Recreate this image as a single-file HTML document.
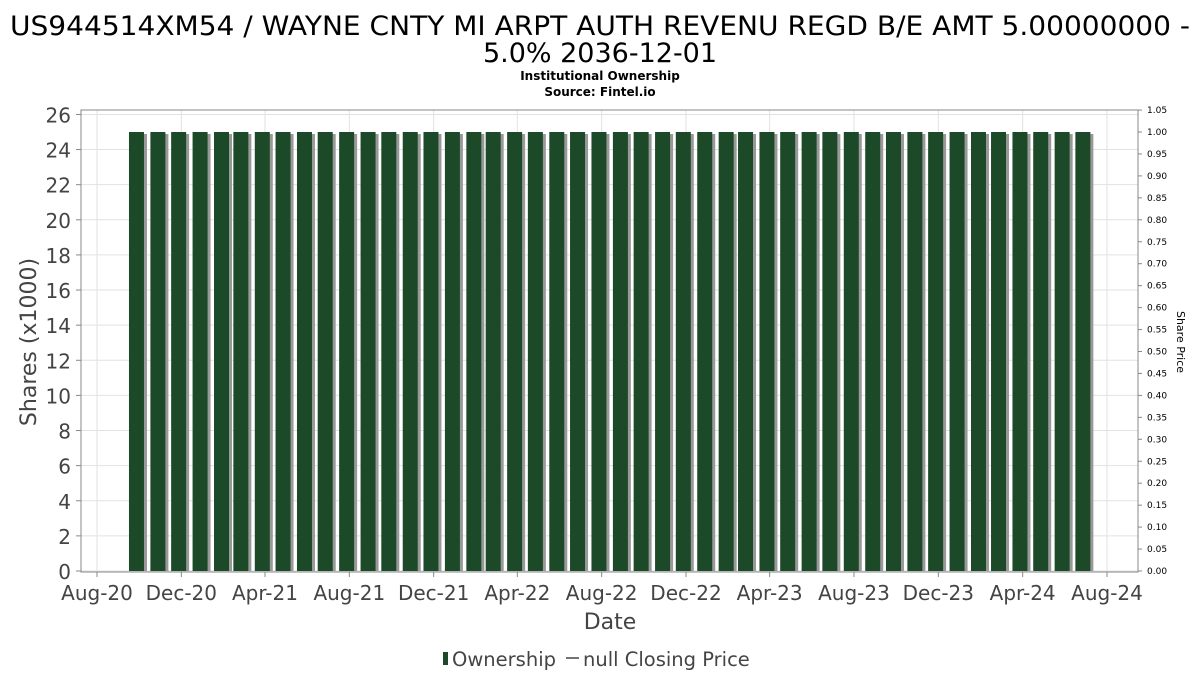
<!DOCTYPE html>
<html><head><meta charset="utf-8"><style>
body{margin:0;background:#fff;font-family:"DejaVu Sans","Liberation Sans",sans-serif}
</style></head><body>
<svg id="c" width="1200" height="675" xmlns="http://www.w3.org/2000/svg">
<text x="600" y="35" text-anchor="middle" font-size="27" fill="#000" textLength="1180" lengthAdjust="spacingAndGlyphs">US944514XM54 / WAYNE CNTY MI ARPT AUTH REVENU REGD B/E AMT 5.00000000 -</text>
<text x="600" y="62" text-anchor="middle" font-size="27" fill="#000">5.0% 2036-12-01</text>
<text x="600" y="80" text-anchor="middle" font-size="12" font-weight="bold">Institutional Ownership</text>
<text x="600" y="96" text-anchor="middle" font-size="12" font-weight="bold">Source: Fintel.io</text>
<g id="grid"></g><g id="bars"></g><g id="axes"></g>
<text transform="translate(36,342) rotate(-90)" text-anchor="middle" font-size="22" fill="#444">Shares (x1000)</text>
<text transform="translate(1177,342) rotate(90)" text-anchor="middle" font-size="11" fill="#000">Share Price</text>
<text x="610" y="629" text-anchor="middle" font-size="22" fill="#444">Date</text>
<g>
<rect x="443" y="652" width="5" height="13" fill="#1c4a28"/>
<text x="452" y="666" font-size="19.5" fill="#444">Ownership</text>
<line x1="566" y1="658" x2="579" y2="658" stroke="#444" stroke-width="1.5"/>
<text x="583" y="666" font-size="19.5" fill="#444">null Closing Price</text>
</g>
</svg>
<script>
const dates=["2020-09-30","2020-10-31","2020-11-30","2020-12-31","2021-01-31","2021-02-28","2021-03-31","2021-04-30","2021-05-31","2021-06-30","2021-07-31","2021-08-31","2021-09-30","2021-10-31","2021-11-30","2021-12-31","2022-01-31","2022-02-28","2022-03-31","2022-04-30","2022-05-31","2022-06-30","2022-07-31","2022-08-31","2022-09-30","2022-10-31","2022-11-30","2022-12-31","2023-01-31","2023-02-28","2023-03-31","2023-04-30","2023-05-31","2023-06-30","2023-07-31","2023-08-31","2023-09-30","2023-10-31","2023-11-30","2023-12-31","2024-01-31","2024-02-29","2024-03-31","2024-04-30","2024-05-31","2024-06-30"];
const shares=[25,25,25,25,25,25,25,25,25,25,25,25,25,25,25,25,25,25,25,25,25,25,25,25,25,25,25,25,25,25,25,25,25,25,25,25,25,25,25,25,25,25,25,25,25,25];
const yTicks=[0,2,4,6,8,10,12,14,16,18,20,22,24,26];
const y2Ticks=["0.00","0.05","0.10","0.15","0.20","0.25","0.30","0.35","0.40","0.45","0.50","0.55","0.60","0.65","0.70","0.75","0.80","0.85","0.90","0.95","1.00","1.05"];
const xTicks=["2020-08-01","2020-12-01","2021-04-01","2021-08-01","2021-12-01","2022-04-01","2022-08-01","2022-12-01","2023-04-01","2023-08-01","2023-12-01","2024-04-01","2024-08-01"];
const xLabels=["Aug-20","Dec-20","Apr-21","Aug-21","Dec-21","Apr-22","Aug-22","Dec-22","Apr-23","Aug-23","Dec-23","Apr-24","Aug-24"];
const NS="http://www.w3.org/2000/svg";
const L=81,R=1138,T=110,B=572;
const t0=Date.parse("2020-08-01"),t1=Date.parse("2024-08-01");
const x=d=>97+(Date.parse(d)-t0)/(t1-t0)*1010;
const y=v=>571-v*17.56;
const y2=v=>y(v*25);
function mk(tag,attrs,parent){const e=document.createElementNS(NS,tag);for(const k in attrs)e.setAttribute(k,attrs[k]);document.getElementById(parent).appendChild(e);return e;}
mk('rect',{x:L,y:T,width:R-L,height:B-T,fill:'#fff'},'grid');
yTicks.forEach(v=>{const g=mk('line',{x1:L,x2:R,y1:y(v),y2:y(v),stroke:'#e2e2e2'},'grid');


const t=mk('text',{x:L-10,y:y(v)+8,'text-anchor':'end','font-size':20,fill:'#444'},'axes');t.textContent=v;


mk('line',{x1:L-5,x2:L,y1:y(v),y2:y(v),stroke:'#888'},'axes');});
xTicks.forEach((d,i)=>{const g=mk('line',{x1:x(d),x2:x(d),y1:T,y2:B,stroke:'#e2e2e2'},'grid');


mk('line',{x1:x(d),x2:x(d),y1:B,y2:B+5,stroke:'#888'},'axes');
const t=mk('text',{x:x(d),y:600,'text-anchor':'middle','font-size':20,fill:'#444'},'axes');t.textContent=xLabels[i];

});
y2Ticks.forEach(s=>{const v=parseFloat(s);mk('line',{x1:R,x2:R+4,y1:y2(v),y2:y2(v),stroke:'#888'},'axes');
const t=mk('text',{x:R+9,y:y2(v)+3,'font-size':9,fill:'#000'},'axes');t.textContent=s;

});
dates.forEach((d,i)=>{const cx=x(d)-2,w=15;
mk('rect',{x:cx-w/2+3,y:y(shares[i])+2,width:w,height:y(0)-y(shares[i])-2,fill:'#999'},'bars');
const b=mk('rect',{x:cx-w/2,y:y(shares[i]),width:w,height:y(0)-y(shares[i]),fill:'#1c4a28'},'bars');

});
mk('rect',{x:L,y:T,width:R-L,height:B-T,fill:'none',stroke:'#888'},'axes');
</script>
</body></html>
